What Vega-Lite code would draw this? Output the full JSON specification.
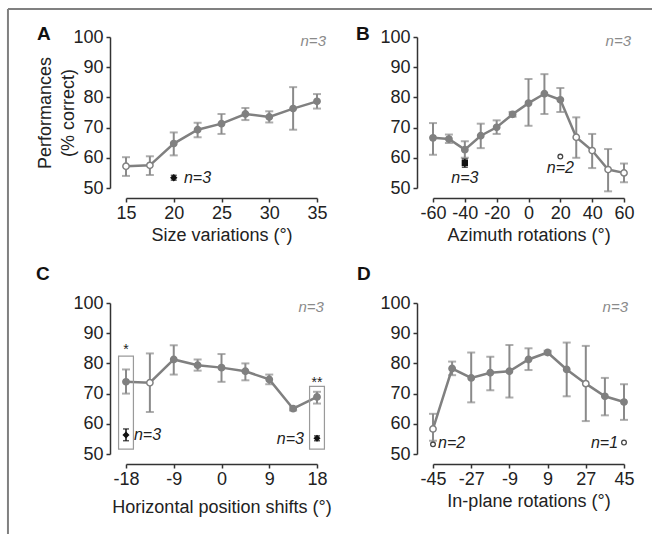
{
  "$schema": "https://vega.github.io/schema/vega-lite/v6.json",
  "padding": {"left": 6, "top": 8, "right": 0, "bottom": 0},
  "background": "white",
  "datasets": {
    "d": [
      {"p":"A","k":"c","x":15,"y":57.2,"lo":54.0,"hi":60.2,"o":1},
      {"p":"A","k":"c","x":17.5,"y":57.5,"lo":54.3,"hi":60.5,"o":1},
      {"p":"A","k":"c","x":20,"y":64.7,"lo":60.8,"hi":68.4,"o":0},
      {"p":"A","k":"c","x":22.5,"y":69.3,"lo":66.8,"hi":71.6,"o":0},
      {"p":"A","k":"c","x":25,"y":71.3,"lo":67.9,"hi":74.5,"o":0},
      {"p":"A","k":"c","x":27.5,"y":74.5,"lo":72.5,"hi":76.5,"o":0},
      {"p":"A","k":"c","x":30,"y":73.5,"lo":71.7,"hi":75.4,"o":0},
      {"p":"A","k":"c","x":32.5,"y":76.3,"lo":69.3,"hi":83.4,"o":0},
      {"p":"A","k":"c","x":35,"y":78.7,"lo":76.3,"hi":81.1,"o":0},
      {"p":"A","k":"r","x":20,"y":53.4,"lo":52.6,"hi":54.2},
      {"p":"A","k":"tn","x":35.94,"y":98.7,"t":"n=3"},
      {"p":"A","k":"nl","x":21.07,"y":53.3,"t":"n=3"},
      {"p":"A","k":"L","x":5.68,"y":99.0,"t":"A"},
      {"p":"A","k":"f","x":2.64,"x2":70.18,"y":109.27,"y2":109.27},
      {"p":"A","k":"f","x":2.64,"x2":2.64,"y":109.27,"y2":-64.57},

      {"p":"B","k":"c","x":-60,"y":66.6,"lo":61.0,"hi":71.5,"o":0},
      {"p":"B","k":"c","x":-50,"y":66.2,"lo":64.9,"hi":67.7,"o":0},
      {"p":"B","k":"c","x":-40,"y":62.7,"lo":60.0,"hi":65.5,"o":0},
      {"p":"B","k":"c","x":-30,"y":67.3,"lo":63.2,"hi":71.3,"o":0},
      {"p":"B","k":"c","x":-20,"y":70.1,"lo":67.9,"hi":72.4,"o":0},
      {"p":"B","k":"c","x":-10,"y":74.4,"lo":73.6,"hi":75.2,"o":0},
      {"p":"B","k":"c","x":0,"y":78.1,"lo":70.6,"hi":86.1,"o":0},
      {"p":"B","k":"c","x":10,"y":81.2,"lo":74.5,"hi":87.7,"o":0},
      {"p":"B","k":"c","x":20,"y":79.2,"lo":75.2,"hi":83.1,"o":0},
      {"p":"B","k":"c","x":30,"y":66.8,"lo":60.0,"hi":73.4,"o":1},
      {"p":"B","k":"c","x":40,"y":62.4,"lo":56.6,"hi":67.9,"o":1},
      {"p":"B","k":"c","x":50,"y":56.1,"lo":48.9,"hi":62.9,"o":1},
      {"p":"B","k":"c","x":60,"y":55.0,"lo":51.9,"hi":58.1,"o":1},
      {"p":"B","k":"r","x":-40,"y":58.3,"lo":56.9,"hi":59.6},
      {"p":"B","k":"m","x":20,"y":60.4},
      {"p":"B","k":"nc","x":-40,"y":53.3,"t":"n=3"},
      {"p":"B","k":"nc","x":20,"y":56.5,"t":"n=2"},
      {"p":"B","k":"tn","x":64.4,"y":98.7,"t":"n=3"},
      {"p":"B","k":"L","x":-108.4,"y":99.0,"t":"B"},

      {"p":"C","k":"c","x":-18,"y":73.9,"lo":70.0,"hi":78.0,"o":0},
      {"p":"C","k":"c","x":-13.5,"y":73.6,"lo":63.9,"hi":83.3,"o":1},
      {"p":"C","k":"c","x":-9,"y":81.3,"lo":76.3,"hi":86.0,"o":0},
      {"p":"C","k":"c","x":-4.5,"y":79.4,"lo":77.6,"hi":81.3,"o":0},
      {"p":"C","k":"c","x":0,"y":78.6,"lo":73.9,"hi":83.1,"o":0},
      {"p":"C","k":"c","x":4.5,"y":77.4,"lo":74.4,"hi":80.0,"o":0},
      {"p":"C","k":"c","x":9,"y":74.7,"lo":73.1,"hi":76.3,"o":0},
      {"p":"C","k":"c","x":13.5,"y":65.0,"lo":64.4,"hi":65.7,"o":0},
      {"p":"C","k":"c","x":18,"y":68.9,"lo":66.7,"hi":70.6,"o":0},
      {"p":"C","k":"r","x":-18,"y":56.3,"lo":54.4,"hi":58.3},
      {"p":"C","k":"r","x":18,"y":55.2,"lo":54.4,"hi":56.0},
      {"p":"C","k":"tn","x":19.3,"y":98.7,"t":"n=3"},
      {"p":"C","k":"nl","x":-16.5,"y":56.3,"t":"n=3"},
      {"p":"C","k":"nr","x":15.55,"y":55.0,"t":"n=3"},
      {"p":"C","k":"s","x":-18,"y":84.4,"t":"*"},
      {"p":"C","k":"s","x":18,"y":73.5,"t":"**"},
      {"p":"C","k":"b","x":-19.4,"x2":-16.6,"y":51.6,"y2":82.4},
      {"p":"C","k":"b","x":16.6,"x2":19.4,"y":51.6,"y2":72.4},
      {"p":"C","k":"L","x":-34.96,"y":107.6,"t":"C"},

      {"p":"D","k":"c","x":-45,"y":58.3,"lo":54.4,"hi":63.3,"o":1},
      {"p":"D","k":"c","x":-36,"y":78.3,"lo":76.1,"hi":80.6,"o":0},
      {"p":"D","k":"c","x":-27,"y":75.2,"lo":67.1,"hi":83.6,"o":0},
      {"p":"D","k":"c","x":-18,"y":76.9,"lo":71.1,"hi":82.2,"o":0},
      {"p":"D","k":"c","x":-9,"y":77.4,"lo":68.7,"hi":86.1,"o":0},
      {"p":"D","k":"c","x":0,"y":81.3,"lo":77.8,"hi":85.0,"o":0},
      {"p":"D","k":"c","x":9,"y":83.6,"lo":83.0,"hi":84.2,"o":0},
      {"p":"D","k":"c","x":18,"y":78.0,"lo":69.1,"hi":86.9,"o":0},
      {"p":"D","k":"c","x":27,"y":73.3,"lo":60.9,"hi":85.8,"o":1},
      {"p":"D","k":"c","x":36,"y":69.1,"lo":62.8,"hi":75.2,"o":0},
      {"p":"D","k":"c","x":45,"y":67.2,"lo":61.3,"hi":73.1,"o":0},
      {"p":"D","k":"m","x":-45,"y":53.2},
      {"p":"D","k":"m","x":45,"y":53.8},
      {"p":"D","k":"nl","x":-42.6,"y":53.5,"t":"n=2"},
      {"p":"D","k":"nr","x":42.2,"y":53.5,"t":"n=1"},
      {"p":"D","k":"tn","x":46.9,"y":98.7,"t":"n=3"},
      {"p":"D","k":"L","x":-80.8,"y":107.6,"t":"D"}
    ]
  },
  "data": {"name": "d"},
  "columns": 2,
  "spacing": {"row": 115, "column": 116},
  "bounds": "flush",
  "concat": [
    {
      "width": 191, "height": 151,
      "transform": [{"filter": "datum.p=='A'"}],
      "layer": [
        {"transform":[{"filter":"datum.k=='c'"}],"mark":{"type":"rule","color":"#8a8a8a","strokeWidth":2},
         "encoding":{"x":{"field":"x","type":"quantitative","scale":{"domain":[15,35],"nice":false,"zero":false},"axis":{"values":[15,20,25,30,35],"tickCount":20,"title":"Size variations (°)","labelExpr":"''+datum.value"}},
                     "y":{"field":"lo","type":"quantitative","scale":{"domain":[50,100],"nice":false,"zero":false},"axis":{"values":[50,60,70,80,90,100],"tickCount":20,"title":["Performances","(% correct)"]}},
                     "y2":{"field":"hi"}}},
        {"transform":[{"filter":"datum.k=='c'"},{"fold":["lo","hi"],"as":["e","v"]}],"mark":{"type":"tick","orient":"horizontal","size":8,"thickness":2,"color":"#8a8a8a"},
         "encoding":{"x":{"field":"x","type":"quantitative"},"y":{"field":"v","type":"quantitative"}}},
        {"transform":[{"filter":"datum.k=='c'"}],"mark":{"type":"line","color":"#808080","strokeWidth":2.5},
         "encoding":{"x":{"field":"x","type":"quantitative"},"y":{"field":"y","type":"quantitative"}}},
        {"transform":[{"filter":"datum.k=='c'"}],"mark":{"type":"point","filled":true,"size":40,"stroke":"#808080","strokeWidth":1.5,"opacity":1},
         "encoding":{"x":{"field":"x","type":"quantitative"},"y":{"field":"y","type":"quantitative"},
                     "fill":{"field":"o","type":"nominal","scale":{"domain":[0,1],"range":["#808080","#ffffff"]},"legend":null}}},
        {"transform":[{"filter":"datum.k=='r'"}],"mark":{"type":"rule","color":"#111","strokeWidth":1.5},
         "encoding":{"x":{"field":"x","type":"quantitative"},"y":{"field":"lo","type":"quantitative"},"y2":{"field":"hi"}}},
        {"transform":[{"filter":"datum.k=='r'"},{"fold":["lo","hi"],"as":["e","v"]}],"mark":{"type":"tick","orient":"horizontal","size":6,"thickness":1.5,"color":"#111"},
         "encoding":{"x":{"field":"x","type":"quantitative"},"y":{"field":"v","type":"quantitative"}}},
        {"transform":[{"filter":"datum.k=='r'"}],"mark":{"type":"point","shape":"diamond","filled":true,"size":55,"color":"#111","opacity":1},
         "encoding":{"x":{"field":"x","type":"quantitative"},"y":{"field":"y","type":"quantitative"}}},
        {"transform":[{"filter":"datum.k=='tn'"}],"mark":{"type":"text","align":"right","baseline":"middle","fontSize":15,"fontStyle":"italic","color":"#8a8a8a"},
         "encoding":{"x":{"field":"x","type":"quantitative"},"y":{"field":"y","type":"quantitative"},"text":{"field":"t"}}},
        {"transform":[{"filter":"datum.k=='nl'"}],"mark":{"type":"text","align":"left","baseline":"middle","fontSize":16,"fontStyle":"italic","color":"#222"},
         "encoding":{"x":{"field":"x","type":"quantitative"},"y":{"field":"y","type":"quantitative"},"text":{"field":"t"}}},
        {"transform":[{"filter":"datum.k=='L'"}],"mark":{"type":"text","align":"left","baseline":"alphabetic","fontSize":19,"fontWeight":"bold","color":"#111"},
         "encoding":{"x":{"field":"x","type":"quantitative"},"y":{"field":"y","type":"quantitative"},"text":{"field":"t"}}},
        {"transform":[{"filter":"datum.k=='f'"}],"mark":{"type":"rule","color":"#808080","strokeWidth":2},
         "encoding":{"x":{"field":"x","type":"quantitative"},"x2":{"field":"x2"},"y":{"field":"y","type":"quantitative"},"y2":{"field":"y2"}}}
      ]
    },
    {
      "width": 191, "height": 151,
      "transform": [{"filter": "datum.p=='B'"}],
      "layer": [
        {"transform":[{"filter":"datum.k=='c'"}],"mark":{"type":"rule","color":"#8a8a8a","strokeWidth":2},
         "encoding":{"x":{"field":"x","type":"quantitative","scale":{"domain":[-60,60],"nice":false,"zero":false},"axis":{"values":[-60,-40,-20,0,20,40,60],"tickCount":20,"title":"Azimuth rotations (°)","labelExpr":"''+datum.value"}},
                     "y":{"field":"lo","type":"quantitative","scale":{"domain":[50,100],"nice":false,"zero":false},"axis":{"values":[50,60,70,80,90,100],"tickCount":20,"title":null}},
                     "y2":{"field":"hi"}}},
        {"transform":[{"filter":"datum.k=='c'"},{"fold":["lo","hi"],"as":["e","v"]}],"mark":{"type":"tick","orient":"horizontal","size":8,"thickness":2,"color":"#8a8a8a"},
         "encoding":{"x":{"field":"x","type":"quantitative"},"y":{"field":"v","type":"quantitative"}}},
        {"transform":[{"filter":"datum.k=='c'"}],"mark":{"type":"line","color":"#808080","strokeWidth":2.5},
         "encoding":{"x":{"field":"x","type":"quantitative"},"y":{"field":"y","type":"quantitative"}}},
        {"transform":[{"filter":"datum.k=='c'"}],"mark":{"type":"point","filled":true,"size":40,"stroke":"#808080","strokeWidth":1.5,"opacity":1},
         "encoding":{"x":{"field":"x","type":"quantitative"},"y":{"field":"y","type":"quantitative"},
                     "fill":{"field":"o","type":"nominal","scale":{"domain":[0,1],"range":["#808080","#ffffff"]},"legend":null}}},
        {"transform":[{"filter":"datum.k=='r'"}],"mark":{"type":"rule","color":"#111","strokeWidth":1.5},
         "encoding":{"x":{"field":"x","type":"quantitative"},"y":{"field":"lo","type":"quantitative"},"y2":{"field":"hi"}}},
        {"transform":[{"filter":"datum.k=='r'"},{"fold":["lo","hi"],"as":["e","v"]}],"mark":{"type":"tick","orient":"horizontal","size":6,"thickness":1.5,"color":"#111"},
         "encoding":{"x":{"field":"x","type":"quantitative"},"y":{"field":"v","type":"quantitative"}}},
        {"transform":[{"filter":"datum.k=='r'"}],"mark":{"type":"square","filled":true,"size":40,"color":"#111","opacity":1},
         "encoding":{"x":{"field":"x","type":"quantitative"},"y":{"field":"y","type":"quantitative"}}},
        {"transform":[{"filter":"datum.k=='m'"}],"mark":{"type":"point","fill":"#ffffff","stroke":"#444","strokeWidth":1.3,"size":22,"opacity":1},
         "encoding":{"x":{"field":"x","type":"quantitative"},"y":{"field":"y","type":"quantitative"}}},
        {"transform":[{"filter":"datum.k=='tn'"}],"mark":{"type":"text","align":"right","baseline":"middle","fontSize":15,"fontStyle":"italic","color":"#8a8a8a"},
         "encoding":{"x":{"field":"x","type":"quantitative"},"y":{"field":"y","type":"quantitative"},"text":{"field":"t"}}},
        {"transform":[{"filter":"datum.k=='nc'"}],"mark":{"type":"text","align":"center","baseline":"middle","fontSize":16,"fontStyle":"italic","color":"#222"},
         "encoding":{"x":{"field":"x","type":"quantitative"},"y":{"field":"y","type":"quantitative"},"text":{"field":"t"}}},
        {"transform":[{"filter":"datum.k=='L'"}],"mark":{"type":"text","align":"left","baseline":"alphabetic","fontSize":19,"fontWeight":"bold","color":"#111"},
         "encoding":{"x":{"field":"x","type":"quantitative"},"y":{"field":"y","type":"quantitative"},"text":{"field":"t"}}}
      ]
    },
    {
      "width": 191, "height": 151,
      "transform": [{"filter": "datum.p=='C'"}],
      "layer": [
        {"transform":[{"filter":"datum.k=='c'"}],"mark":{"type":"rule","color":"#8a8a8a","strokeWidth":2},
         "encoding":{"x":{"field":"x","type":"quantitative","scale":{"domain":[-18,18],"nice":false,"zero":false},"axis":{"values":[-18,-9,0,9,18],"tickCount":20,"title":"Horizontal position shifts (°)","titlePadding":10,"labelExpr":"''+datum.value"}},
                     "y":{"field":"lo","type":"quantitative","scale":{"domain":[50,100],"nice":false,"zero":false},"axis":{"values":[50,60,70,80,90,100],"tickCount":20,"title":null}},
                     "y2":{"field":"hi"}}},
        {"transform":[{"filter":"datum.k=='c'"},{"fold":["lo","hi"],"as":["e","v"]}],"mark":{"type":"tick","orient":"horizontal","size":8,"thickness":2,"color":"#8a8a8a"},
         "encoding":{"x":{"field":"x","type":"quantitative"},"y":{"field":"v","type":"quantitative"}}},
        {"transform":[{"filter":"datum.k=='c'"}],"mark":{"type":"line","color":"#808080","strokeWidth":2.5},
         "encoding":{"x":{"field":"x","type":"quantitative"},"y":{"field":"y","type":"quantitative"}}},
        {"transform":[{"filter":"datum.k=='c'"}],"mark":{"type":"point","filled":true,"size":40,"stroke":"#808080","strokeWidth":1.5,"opacity":1},
         "encoding":{"x":{"field":"x","type":"quantitative"},"y":{"field":"y","type":"quantitative"},
                     "fill":{"field":"o","type":"nominal","scale":{"domain":[0,1],"range":["#808080","#ffffff"]},"legend":null}}},
        {"transform":[{"filter":"datum.k=='r'"}],"mark":{"type":"rule","color":"#111","strokeWidth":1.5},
         "encoding":{"x":{"field":"x","type":"quantitative"},"y":{"field":"lo","type":"quantitative"},"y2":{"field":"hi"}}},
        {"transform":[{"filter":"datum.k=='r'"},{"fold":["lo","hi"],"as":["e","v"]}],"mark":{"type":"tick","orient":"horizontal","size":6,"thickness":1.5,"color":"#111"},
         "encoding":{"x":{"field":"x","type":"quantitative"},"y":{"field":"v","type":"quantitative"}}},
        {"transform":[{"filter":"datum.k=='r'"}],"mark":{"type":"point","shape":"diamond","filled":true,"size":50,"color":"#111","opacity":1},
         "encoding":{"x":{"field":"x","type":"quantitative"},"y":{"field":"y","type":"quantitative"}}},
        {"transform":[{"filter":"datum.k=='tn'"}],"mark":{"type":"text","align":"right","baseline":"middle","fontSize":15,"fontStyle":"italic","color":"#8a8a8a"},
         "encoding":{"x":{"field":"x","type":"quantitative"},"y":{"field":"y","type":"quantitative"},"text":{"field":"t"}}},
        {"transform":[{"filter":"datum.k=='nl'"}],"mark":{"type":"text","align":"left","baseline":"middle","fontSize":16,"fontStyle":"italic","color":"#222"},
         "encoding":{"x":{"field":"x","type":"quantitative"},"y":{"field":"y","type":"quantitative"},"text":{"field":"t"}}},
        {"transform":[{"filter":"datum.k=='nr'"}],"mark":{"type":"text","align":"right","baseline":"middle","fontSize":16,"fontStyle":"italic","color":"#222"},
         "encoding":{"x":{"field":"x","type":"quantitative"},"y":{"field":"y","type":"quantitative"},"text":{"field":"t"}}},
        {"transform":[{"filter":"datum.k=='s'"}],"mark":{"type":"text","align":"center","baseline":"middle","fontSize":14,"color":"#222"},
         "encoding":{"x":{"field":"x","type":"quantitative"},"y":{"field":"y","type":"quantitative"},"text":{"field":"t"}}},
        {"transform":[{"filter":"datum.k=='L'"}],"mark":{"type":"text","align":"left","baseline":"alphabetic","fontSize":19,"fontWeight":"bold","color":"#111"},
         "encoding":{"x":{"field":"x","type":"quantitative"},"y":{"field":"y","type":"quantitative"},"text":{"field":"t"}}},
        {"transform":[{"filter":"datum.k=='b'"}],"mark":{"type":"rect","filled":false,"stroke":"#9a9a9a","strokeWidth":1.2},
         "encoding":{"x":{"field":"x","type":"quantitative"},"x2":{"field":"x2"},"y":{"field":"y","type":"quantitative"},"y2":{"field":"y2"}}}
      ]
    },
    {
      "width": 191, "height": 151,
      "transform": [{"filter": "datum.p=='D'"}],
      "layer": [
        {"transform":[{"filter":"datum.k=='c'"}],"mark":{"type":"rule","color":"#8a8a8a","strokeWidth":2},
         "encoding":{"x":{"field":"x","type":"quantitative","scale":{"domain":[-45,45],"nice":false,"zero":false},"axis":{"values":[-45,-27,-9,9,27,45],"tickCount":20,"title":"In-plane rotations (°)","labelExpr":"''+datum.value"}},
                     "y":{"field":"lo","type":"quantitative","scale":{"domain":[50,100],"nice":false,"zero":false},"axis":{"values":[50,60,70,80,90,100],"tickCount":20,"title":null}},
                     "y2":{"field":"hi"}}},
        {"transform":[{"filter":"datum.k=='c'"},{"fold":["lo","hi"],"as":["e","v"]}],"mark":{"type":"tick","orient":"horizontal","size":8,"thickness":2,"color":"#8a8a8a"},
         "encoding":{"x":{"field":"x","type":"quantitative"},"y":{"field":"v","type":"quantitative"}}},
        {"transform":[{"filter":"datum.k=='c'"}],"mark":{"type":"line","color":"#808080","strokeWidth":2.5},
         "encoding":{"x":{"field":"x","type":"quantitative"},"y":{"field":"y","type":"quantitative"}}},
        {"transform":[{"filter":"datum.k=='c'"}],"mark":{"type":"point","filled":true,"size":40,"stroke":"#808080","strokeWidth":1.5,"opacity":1},
         "encoding":{"x":{"field":"x","type":"quantitative"},"y":{"field":"y","type":"quantitative"},
                     "fill":{"field":"o","type":"nominal","scale":{"domain":[0,1],"range":["#808080","#ffffff"]},"legend":null}}},
        {"transform":[{"filter":"datum.k=='m'"}],"mark":{"type":"point","fill":"#ffffff","stroke":"#444","strokeWidth":1.3,"size":22,"opacity":1},
         "encoding":{"x":{"field":"x","type":"quantitative"},"y":{"field":"y","type":"quantitative"}}},
        {"transform":[{"filter":"datum.k=='tn'"}],"mark":{"type":"text","align":"right","baseline":"middle","fontSize":15,"fontStyle":"italic","color":"#8a8a8a"},
         "encoding":{"x":{"field":"x","type":"quantitative"},"y":{"field":"y","type":"quantitative"},"text":{"field":"t"}}},
        {"transform":[{"filter":"datum.k=='nl'"}],"mark":{"type":"text","align":"left","baseline":"middle","fontSize":16,"fontStyle":"italic","color":"#222"},
         "encoding":{"x":{"field":"x","type":"quantitative"},"y":{"field":"y","type":"quantitative"},"text":{"field":"t"}}},
        {"transform":[{"filter":"datum.k=='nr'"}],"mark":{"type":"text","align":"right","baseline":"middle","fontSize":16,"fontStyle":"italic","color":"#222"},
         "encoding":{"x":{"field":"x","type":"quantitative"},"y":{"field":"y","type":"quantitative"},"text":{"field":"t"}}},
        {"transform":[{"filter":"datum.k=='L'"}],"mark":{"type":"text","align":"left","baseline":"alphabetic","fontSize":19,"fontWeight":"bold","color":"#111"},
         "encoding":{"x":{"field":"x","type":"quantitative"},"y":{"field":"y","type":"quantitative"},"text":{"field":"t"}}}
      ]
    }
  ],
  "config": {
    "font": "Liberation Sans",
    "view": {"stroke": null},
    "axis": {"grid": false, "domainColor": "#333", "domainWidth": 1.5, "tickColor": "#333", "tickWidth": 1.5, "tickSize": 4,
             "labelFont": "Liberation Sans", "labelFontSize": 18, "labelColor": "#222", "labelOverlap": false, "labelFlush": false,
             "titleFont": "Liberation Sans", "titleFontSize": 18, "titleFontWeight": "normal", "titleColor": "#222"},
    "axisX": {"offset": 10, "labelPadding": 2, "titlePadding": 4},
    "axisY": {"offset": 16, "labelPadding": 3, "titlePadding": -5, "titleLineHeight": 23}
  }
}
